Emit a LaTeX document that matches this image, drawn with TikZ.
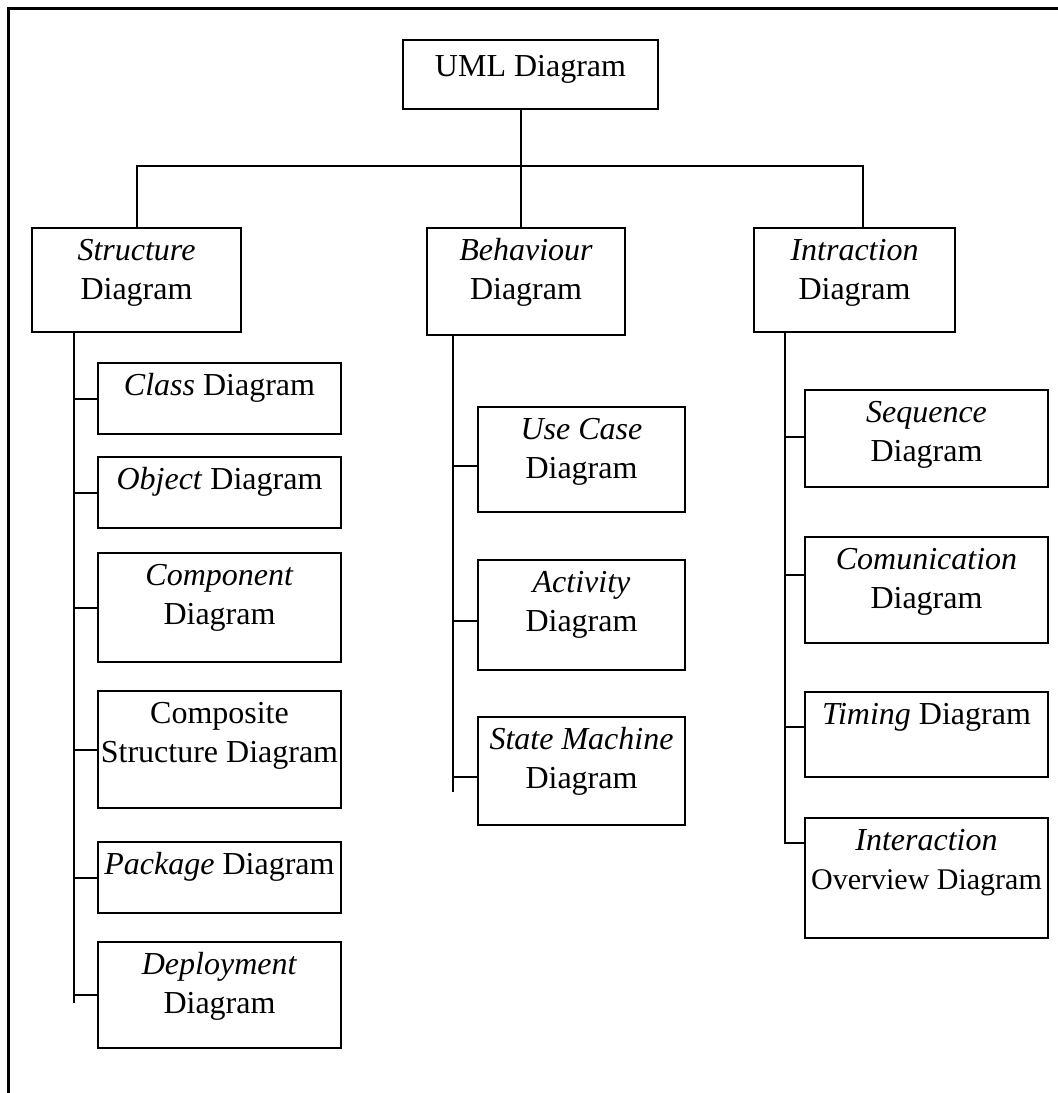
\documentclass[tikz,border=0pt]{standalone}
\usepackage{fontspec}
\setmainfont{Liberation Serif}
\usetikzlibrary{positioning}
\tikzset{
  every picture/.style={line width=2pt},
  box/.style={draw, line width=2.2pt, anchor=north west, inner sep=0pt, outer sep=0pt, align=center,
    font=\fontsize{32}{39}\selectfont, text height=32pt},
  two/.style={box, text height=71pt},
  wire/.style={draw, line width=2pt},
  frame/.style={draw, line width=3pt},
}
\begin{document}
\begin{tikzpicture}[x=1pt, y=-1pt]
  \useasboundingbox (0,0) rectangle (1058,1093);
  \draw[frame] (8,1093) -- (8,8) -- (1058,8);

  % ---- top level
  \node[box, minimum width=255, text height=36, text depth=33] (uml) at (403,40) {UML Diagram};
  \node[two, minimum width=209, text depth=33] (sd) at (32,228)  {\textit{Structure}\\Diagram};
  \node[two, minimum width=198, text depth=36] (bd) at (427,228) {\textit{Behaviour}\\Diagram};
  \node[two, minimum width=201, text depth=33] (id) at (754,228) {\textit{Intraction}\\Diagram};

  % ---- structure diagrams
  \node[box, minimum width=243, text depth=39] (cls) at (98,363) {\textit{Class} Diagram};
  \node[box, minimum width=243, text depth=39] (obj) at (98,457) {\textit{Object} Diagram};
  \node[two, minimum width=243, text depth=38] (cmp) at (98,553) {\textit{Component}\\Diagram};
  \node[two, minimum width=243, text depth=46] (cst) at (98,691) {Composite\\Structure Diagram};
  \node[box, minimum width=243, text depth=39] (pkg) at (98,842) {\textit{Package} Diagram};
  \node[two, minimum width=243, text depth=35] (dep) at (98,942) {\textit{Deployment}\\Diagram};

  % ---- behaviour diagrams
  \node[two, minimum width=207, text depth=34] (uc)  at (478,407) {\textit{Use Case}\\Diagram};
  \node[two, minimum width=207, text depth=39] (act) at (478,560) {\textit{Activity}\\Diagram};
  \node[two, minimum width=207, text depth=37] (stm) at (478,717) {\textit{State Machine}\\Diagram};

  % ---- interaction diagrams
  \node[two, minimum width=243, text depth=26] (seq) at (805,390) {\textit{Sequence}\\Diagram};
  \node[two, minimum width=243, text depth=35] (com) at (805,537) {\textit{Comunication}\\Diagram};
  \node[box, minimum width=243, text depth=53] (tim) at (805,692) {\textit{Timing} Diagram};
  \node[two, minimum width=243, text depth=49] (iov) at (805,818) {\textit{Interaction}\\{\fontsize{30}{39}\selectfont Overview Diagram}};

  % ---- bus from the root
  \coordinate (hub) at (521,166);
  \draw[wire] ([xshift=-9.5pt]uml.south) -- (hub);
  \draw[wire] (sd.north) |- (hub) -| ([xshift=8.5pt]id.north);
  \draw[wire] (hub) -- ([xshift=-5pt]bd.north);

  % ---- spines
  \coordinate (spS) at (74,332);   \coordinate (spSend) at (74,1003);
  \coordinate (spB) at (453,335);  \coordinate (spBend) at (453,792);
  \coordinate (spI) at (785,332);

  \draw[wire] (spS) -- (spSend);
  \foreach \c in {cls, obj, cmp, cst, pkg, dep}
    \draw[wire] (spS) |- (\c.west);

  \draw[wire] (spB) -- (spBend);
  \foreach \c in {uc, act, stm}
    \draw[wire] (spB) |- ([yshift=-6pt]\c.west);

  \draw[wire] (spI) |- ([yshift=2pt]seq.west);
  \draw[wire] (spI) |- ([yshift=15pt]com.west);
  \draw[wire] (spI) |- ([yshift=7.5pt]tim.west);
  \draw[wire] (spI) |- ([yshift=35pt]iov.west);
\end{tikzpicture}
\end{document}
